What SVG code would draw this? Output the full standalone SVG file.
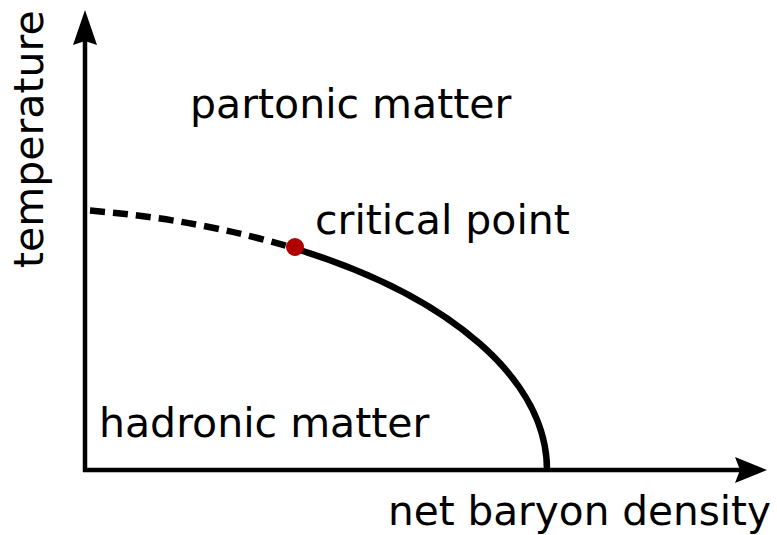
<svg xmlns="http://www.w3.org/2000/svg" width="777" height="535" viewBox="0 0 777 535">
<style>
text{font-family:"DejaVu Sans",sans-serif;font-size:41px;fill:#000}
.axis{stroke:#000;stroke-width:4.5;fill:none}
.curve{stroke:#000;stroke-width:6.5;fill:none}
</style>
<rect width="777" height="535" fill="#fff"/>
<g id="connectors">
<path class="axis" d="M85 472 V40"/>
<path d="M85 10 L97 45 L85 41 L73 45 Z" fill="#000"/>
<path class="axis" d="M83 470 H740"/>
<path d="M767 470 L735 457 L740 470 L735 483 Z" fill="#000"/>
<path class="curve" stroke-dasharray="15 8" d="M90 210.6 A547 263 0 0 1 295 248.5"/>
<path class="curve" d="M295 248.5 A547 263 0 0 1 547 470"/>
</g>
<g id="critical-point">
<circle cx="295" cy="247" r="9" fill="#b00000"/>
<text x="315" y="234">critical point</text>
</g>
<g id="partonic"><text x="190" y="118">partonic matter</text></g>
<g id="hadronic"><text x="99" y="437">hadronic matter</text></g>
<g id="xlabel"><text x="388" y="525" style="font-size:40.6px">net baryon density</text></g>
<g id="ylabel"><text transform="translate(43 268) rotate(-90)">temperature</text></g>
</svg>
